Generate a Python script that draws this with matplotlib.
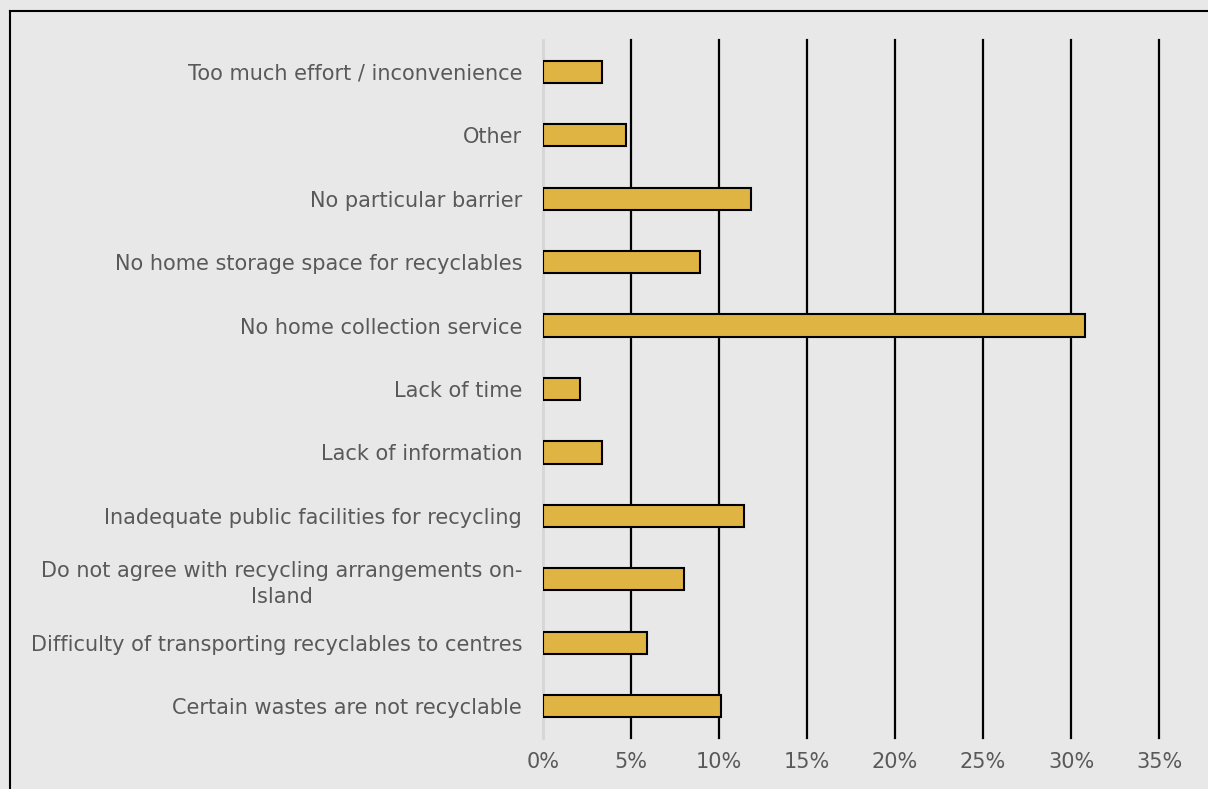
import matplotlib
matplotlib.use("Agg")
from matplotlib import pyplot as plt
from matplotlib.lines import Line2D

# bottom to top order
categories = [
    "Certain wastes are not recyclable",
    "Difficulty of transporting recyclables to centres",
    "Do not agree with recycling arrangements on-\nIsland",
    "Inadequate public facilities for recycling",
    "Lack of information",
    "Lack of time",
    "No home collection service",
    "No home storage space for recyclables",
    "No particular barrier",
    "Other",
    "Too much effort / inconvenience",
]
values = [10.1, 5.9, 8.0, 11.4, 3.35, 2.1, 30.8, 8.9, 11.8, 4.7, 3.35]
ticks = [0, 5, 10, 15, 20, 25, 30, 35]

bg = "#e8e8e8"
txt = "#595959"
W, H = 1208, 789

fig = plt.figure(figsize=(W/100, H/100), dpi=100, facecolor=bg)
ax = fig.add_axes([543/W, 1-738/H, (1159-543)/W, (738-40)/H])
ax.set_facecolor(bg)

ypos = list(range(len(categories)))
ax.barh(ypos, values, height=0.35, color="#e0b443", edgecolor="black", linewidth=1.5, zorder=3)

ax.set_xlim(0, 35)
ax.set_ylim(-0.5, len(categories) - 0.5)
for t in ticks[1:]:
    ax.axvline(t, color="black", linewidth=1.6, zorder=1, clip_on=False)
ax.axvline(0, color="#d6d6d6", linewidth=2, zorder=2, clip_on=False)

ax.set_xticks(ticks)
ax.set_xticklabels([f"{t}%" for t in ticks], fontsize=15, color=txt)
ax.set_yticks(ypos)
ax.set_yticklabels(categories, fontsize=15, color=txt, multialignment="center", linespacing=1.35)
ax.tick_params(length=0, pad=15, axis="y")
ax.tick_params(length=0, pad=10, axis="x")
for s in ax.spines.values():
    s.set_visible(False)

# outer frame (only left and top visible in the crop)
fig.add_artist(Line2D([10/W, 10/W], [0, 1-11/H], transform=fig.transFigure, color="black", linewidth=1.5))
fig.add_artist(Line2D([10/W, 1], [1-11/H, 1-11/H], transform=fig.transFigure, color="black", linewidth=1.5))

plt.savefig("out.png", dpi=100, facecolor=bg)
